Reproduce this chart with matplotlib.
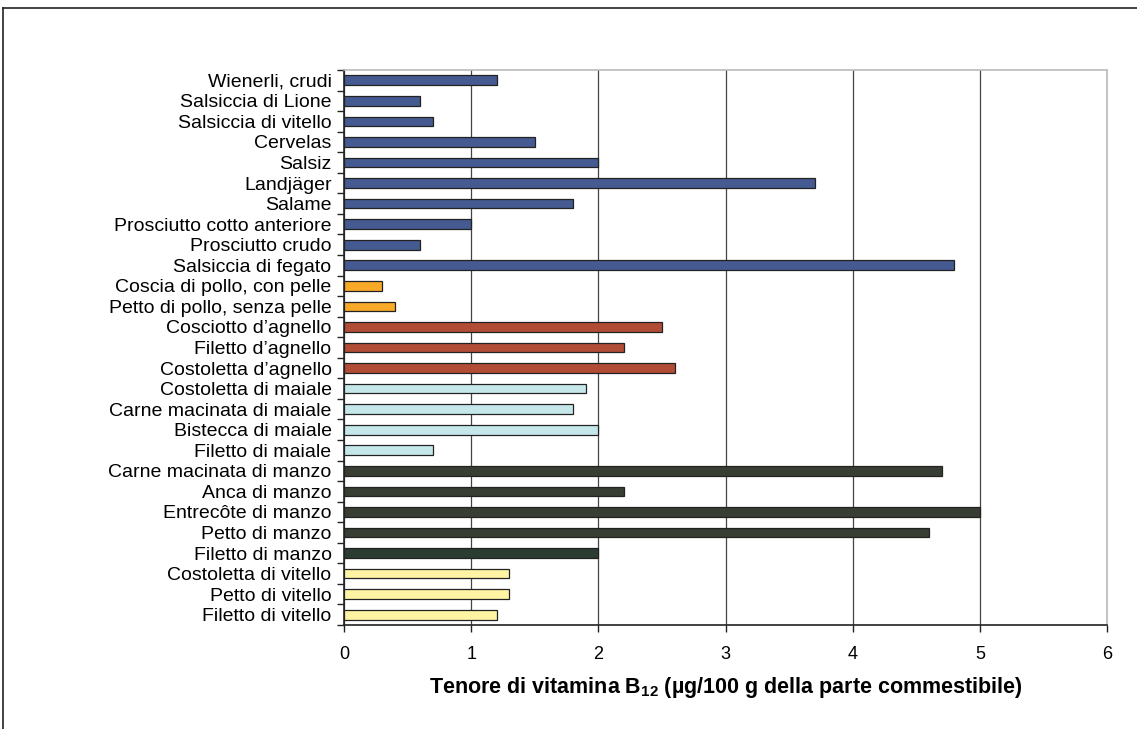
import matplotlib.pyplot as plt
import numpy as np
from matplotlib.lines import Line2D

# dati (dal basso verso l'alto)
alimenti = [
    'Filetto di vitello', 'Petto di vitello', 'Costoletta di vitello',
    'Filetto di manzo', 'Petto di manzo', 'Entrecôte di manzo', 'Anca di manzo',
    'Carne macinata di manzo',
    'Filetto di maiale', 'Bistecca di maiale', 'Carne macinata di maiale', 'Costoletta di maiale',
    'Costoletta d\u2019agnello', 'Filetto d\u2019agnello', 'Cosciotto d\u2019agnello',
    'Petto di pollo, senza pelle', 'Coscia di pollo, con pelle',
    'Salsiccia di fegato', 'Prosciutto crudo', 'Prosciutto cotto anteriore', 'Salame',
    'Landjäger', 'Salsiz', 'Cervelas', 'Salsiccia di vitello', 'Salsiccia di Lione',
    'Wienerli, crudi',
]
valori = [1.2, 1.3, 1.3,
          2.0, 4.6, 5.0, 2.2, 4.7,
          0.7, 2.0, 1.8, 1.9,
          2.6, 2.2, 2.5,
          0.4, 0.3,
          4.8, 0.6, 1.0, 1.8, 3.7, 2.0, 1.5, 0.7, 0.6, 1.2]
gruppi = ['vitello'] * 3 + ['manzo_filetto'] + ['manzo'] * 4 + ['maiale'] * 4 + \
         ['agnello'] * 3 + ['pollo'] * 2 + ['salumi'] * 10

colori = {
    'vitello': '#fff4a3',
    'manzo_filetto': '#2b3d33',
    'manzo': '#383e33',
    'maiale': '#c6e7ea',
    'agnello': '#b14d36',
    'pollo': '#f8a928',
    'salumi': '#445a90',
}

plt.rcParams['font.family'] = ['Liberation Sans', 'DejaVu Sans']
plt.rcParams['mathtext.fontset'] = 'custom'
plt.rcParams['mathtext.rm'] = 'Liberation Sans'
plt.rcParams['mathtext.bf'] = 'Liberation Sans:bold'

fig = plt.figure(figsize=(11.37, 7.29), dpi=100)
ax = fig.add_axes([344 / 1137, 1 - 625 / 729, (1107 - 344) / 1137, (625 - 70) / 729])

y = np.arange(len(alimenti))
ax.barh(y, valori, height=0.47, color=[colori[g] for g in gruppi],
        edgecolor='#222222', linewidth=0.9, zorder=3)

ax.set_xlim(0, 6)
ax.set_ylim(-0.5, len(alimenti) - 0.5)
ax.set_xticks(range(7))
ax.set_xticklabels([str(i) for i in range(7)], fontsize=13)
ax.tick_params(axis='x', direction='out', length=5, width=1, color='#222222', pad=10)

# etichette al centro, tacche ai bordi
ax.set_yticks(np.arange(-0.5, len(alimenti), 1.0))
ax.set_yticklabels([])
ax.set_yticks(y, minor=True)
ax.set_yticklabels(alimenti, minor=True, fontsize=14)
ax.tick_params(axis='y', which='major', direction='out', length=5, width=1, color='#222222')
ax.tick_params(axis='y', which='minor', length=0, pad=9)

ax.grid(axis='x', color='#444444', linewidth=0.9, zorder=0)
for s in ['top', 'right']:
    ax.spines[s].set_color('#bbbbbb')
    ax.spines[s].set_linewidth(1.2)
for s in ['left', 'bottom']:
    ax.spines[s].set_color('#222222')
    ax.spines[s].set_linewidth(1.2)

ax.set_xlabel(r'Tenore di vitamina B$_{\mathbf{12}}$ (µg/100 g della parte commestibile)',
              fontsize=15.5, fontweight='bold', labelpad=9)

# cornice esterna
fig.add_artist(Line2D([3 / 1137, 3 / 1137], [0, 1 - 8 / 729], color='#222222', lw=1.2))
fig.add_artist(Line2D([3 / 1137, 1], [1 - 8 / 729, 1 - 8 / 729], color='#222222', lw=1.2))

fig.savefig('out.png', dpi=100)
